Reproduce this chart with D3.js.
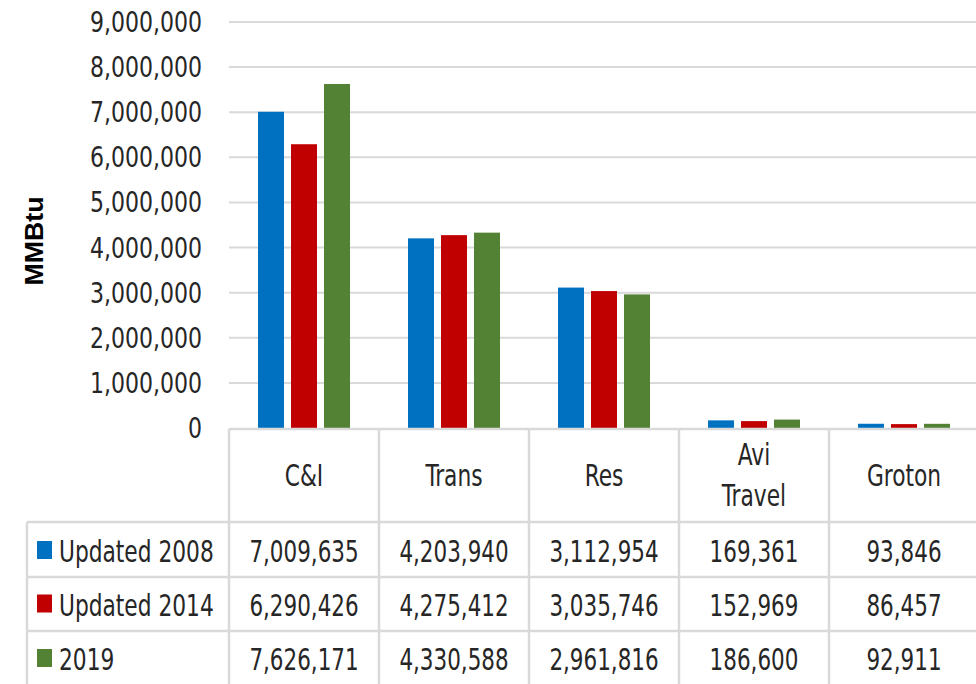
<!DOCTYPE html>
<html>
<head>
<meta charset="utf-8">
<title>MMBtu by sector</title>
<script src="https://d3js.org/d3.v7.min.js"></script>
<style>
  body { margin: 0; background: #fff; }
  svg text { font-family: "DejaVu Sans Condensed", "DejaVu Sans", sans-serif; fill: #262626; }
</style>
</head>
<body>
<script>
// data
var categories = ["C&I", "Trans", "Res", "Avi Travel", "Groton"];
var seriesNames = ["Updated 2008", "Updated 2014", "2019"];
var updated2008 = [7009635, 4203940, 3112954, 169361, 93846];
var updated2014 = [6290426, 4275412, 3035746, 152969, 86457];
var y2019 = [7626171, 4330588, 2961816, 186600, 92911];
var yTicks = [0, 1000000, 2000000, 3000000, 4000000, 5000000, 6000000, 7000000, 8000000, 9000000];
var colors = ["#0070C0", "#C00000", "#548235"];

var seriesValues = [updated2008, updated2014, y2019];

var W = 976, H = 684;
var svg = d3.select("body").append("svg")
    .attr("width", W)
    .attr("height", H);

// scales
var x = d3.scaleBand().domain(categories).range([229, 979]);
var y = d3.scaleLinear().domain([0, 9000000]).range([428, 22]);
var x1 = d3.scaleBand().domain(seriesNames).range([0, 92]).paddingInner(0.212);
var groupOffset = (x.bandwidth() - 92) / 2;

var fmt = d3.format(",");
var gridColor = "#d9d9d9";

// text helper: narrow the glyphs a bit to look like the original font
function label(g, px, py, str, size, sx, anchor) {
  return g.append("text")
    .attr("transform", "translate(" + px + "," + py + ") scale(" + sx + ",1)")
    .attr("text-anchor", anchor || "middle")
    .style("font-size", size + "px")
    .text(str);
}

// gridlines
svg.append("g")
    .selectAll("line")
    .data(yTicks.slice(1))
    .enter().append("line")
    .attr("x1", 229).attr("x2", W)
    .attr("y1", function(d) { return y(d); })
    .attr("y2", function(d) { return y(d); })
    .attr("stroke", gridColor)
    .attr("stroke-width", 2);

// y axis labels
var yAxisG = svg.append("g");
yTicks.forEach(function(t) {
  label(yAxisG, 202, y(t) + 10, fmt(t), 27.5, 0.89, "end");
});

svg.append("text")
    .attr("transform", "translate(43,241) rotate(-90) scale(1.07,1)")
    .attr("text-anchor", "middle")
    .style("font-family", "'Liberation Sans', Arial, sans-serif")
    .style("font-weight", "bold")
    .style("font-size", "25px")
    .style("fill", "#000")
    .text("MMBtu");

// bars
var rows = [];
seriesNames.forEach(function(s, i) {
  categories.forEach(function(c, j) {
    rows.push({ series: s, cat: c, value: seriesValues[i][j], color: colors[i] });
  });
});

svg.append("g")
    .selectAll("rect")
    .data(rows)
    .enter().append("rect")
    .attr("x", function(d) { return x(d.cat) + groupOffset + x1(d.series); })
    .attr("width", x1.bandwidth())
    .attr("y", function(d) { return y(d.value); })
    .attr("height", function(d) { return y(0) - y(d.value); })
    .attr("fill", function(d) { return d.color; });

// data table
var rowTops = [522, 577, 631];
var rowCenters = [550.5, 604, 658.5];
var table = svg.append("g");

// horizontal borders
table.append("line")
    .attr("x1", 229).attr("x2", W).attr("y1", 429).attr("y2", 429)
    .attr("stroke", gridColor).attr("stroke-width", 2.5);
table.selectAll("line.h")
    .data(rowTops)
    .enter().append("line")
    .attr("class", "h")
    .attr("x1", 27).attr("x2", W)
    .attr("y1", function(d) { return d; })
    .attr("y2", function(d) { return d; })
    .attr("stroke", gridColor).attr("stroke-width", 2.5);

// vertical borders
table.selectAll("line.v")
    .data(categories)
    .enter().append("line")
    .attr("class", "v")
    .attr("x1", function(d) { return x(d); })
    .attr("x2", function(d) { return x(d); })
    .attr("y1", 429).attr("y2", H)
    .attr("stroke", gridColor).attr("stroke-width", 2.5);
table.append("line")
    .attr("x1", 27).attr("x2", 27).attr("y1", 522).attr("y2", H)
    .attr("stroke", gridColor).attr("stroke-width", 2.5);

// header labels
categories.forEach(function(c) {
  var cx = x(c) + x.bandwidth() / 2;
  if (c === "Avi Travel") {
    label(table, cx, 465, "Avi", 31, 0.78);
    label(table, cx, 506, "Travel", 31, 0.78);
  } else {
    label(table, cx, 486, c, 31, 0.78);
  }
});

// legend keys + values
seriesNames.forEach(function(s, i) {
  var cy = rowCenters[i];
  table.append("rect")
    .attr("x", 37).attr("y", cy - 9.5)
    .attr("width", 15).attr("height", 18)
    .attr("fill", colors[i]);
  label(table, 59, cy + 11.5, s, 31, 0.78, "start");
  categories.forEach(function(c, j) {
    label(table, x(c) + x.bandwidth() / 2, cy + 11.5, fmt(seriesValues[i][j]), 31, 0.77);
  });
});
</script>
</body>
</html>
